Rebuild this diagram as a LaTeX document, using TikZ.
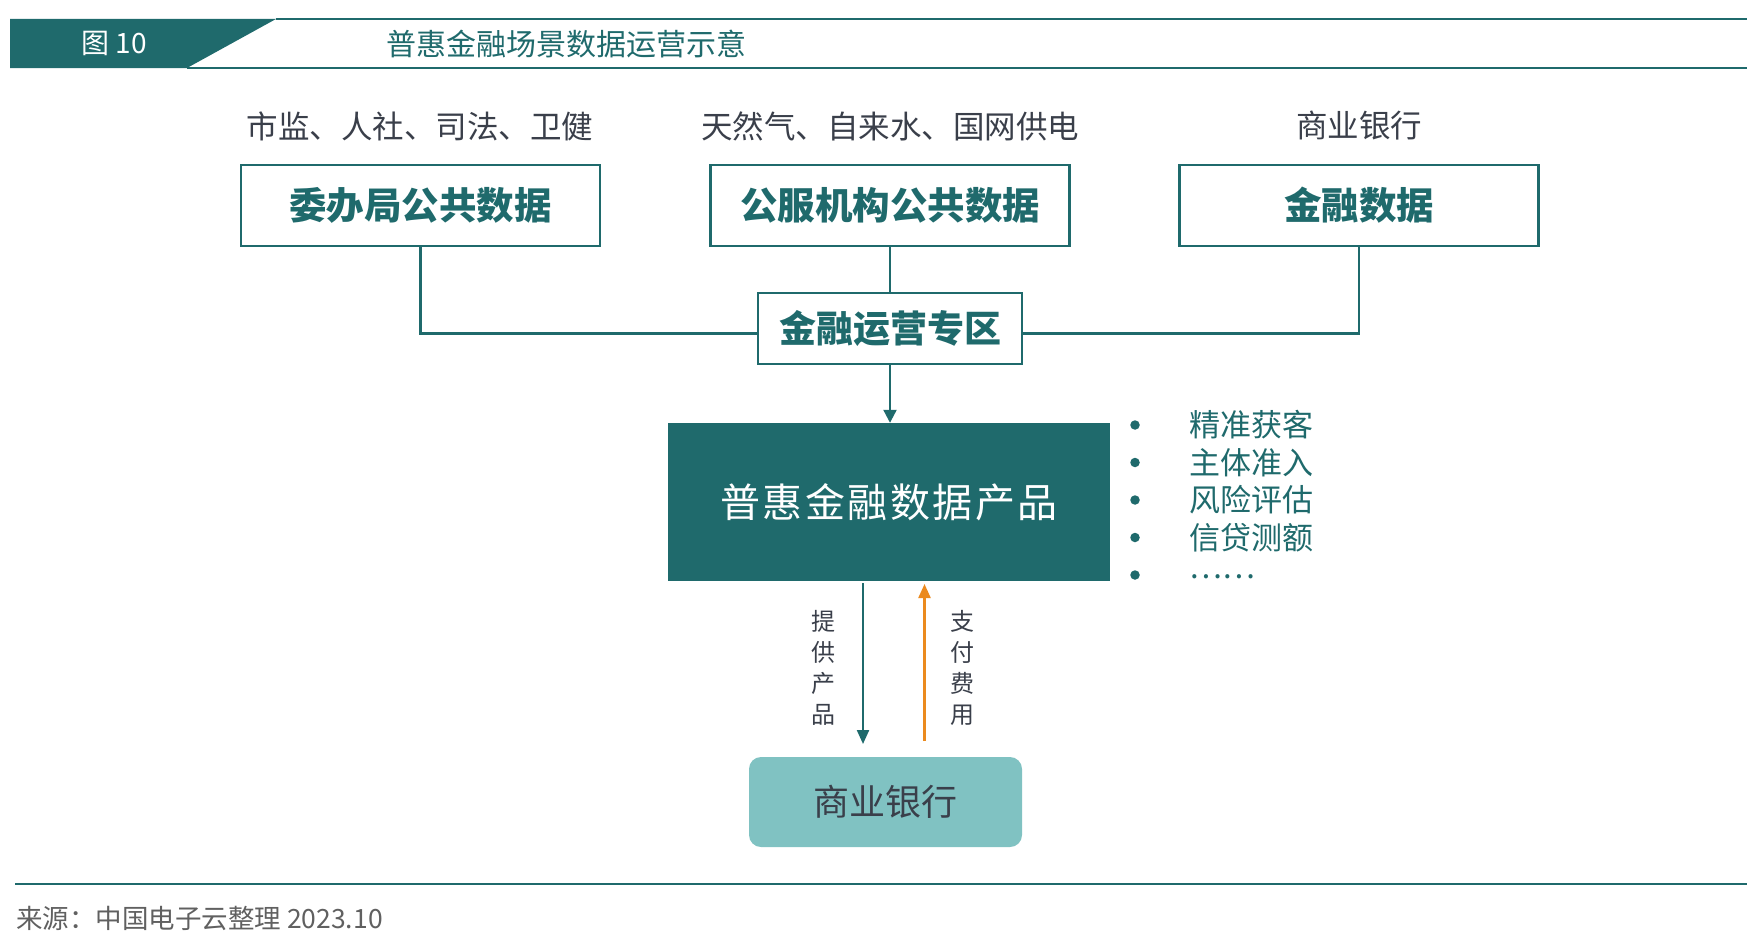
\documentclass[tikz,border=0pt]{standalone}
\usepackage{fontspec}
\setmainfont{Noto Sans CJK SC}
\usetikzlibrary{arrows.meta}
\definecolor{teal1}{HTML}{1F6A6C}
\definecolor{tealL}{HTML}{80C2C2}
\definecolor{orng}{HTML}{EB8A1E}
\definecolor{txtg}{HTML}{3A3F4A}
\definecolor{footg}{HTML}{606060}
\tikzset{
  srcbox/.style={draw=teal1, line width=2.2pt, minimum width=359pt, minimum height=81pt, font=\fontsize{37.5}{40}\selectfont\bfseries, text=teal1, inner sep=0pt},
  toplbl/.style={font=\fontsize{31.5}{34}\selectfont, text=txtg, inner sep=0pt},
  conn/.style={draw=teal1, line width=2.2pt},
  bullet/.style={circle, fill=teal1, minimum size=9.5pt, inner sep=0pt},
  bltxt/.style={font=\fontsize{31}{33}\selectfont, text=teal1, anchor=west, inner sep=0pt},
  vlbl/.style={font=\fontsize{24}{31}\selectfont, text=txtg, align=center, inner sep=0pt},
}
\begin{document}
\begin{tikzpicture}[x=1pt,y=-1pt]
\useasboundingbox (0,0) rectangle (1755,934);
% header
\fill[teal1] (10,19) -- (276,19) -- (187,68) -- (10,68) -- cycle;
\draw[teal1, line width=2pt] (276,19) -- (1747,19);
\draw[teal1, line width=2pt] (187,68) -- (1747,68);
\node[text=white, font=\fontsize{28}{32}\selectfont, inner sep=0pt] (fig) at (114,43) {图 10};
\node[text=teal1, font=\fontsize{30}{32}\selectfont, anchor=west, inner sep=0pt] (title) at (386,44) {普惠金融场景数据运营示意};
% top labels
\node[toplbl] (l1) at (420,126) {市监、人社、司法、卫健};
\node[toplbl] (l2) at (890,126) {天然气、自来水、国网供电};
\node[toplbl] (l3) at (1359,126) {商业银行};
% source boxes
\node[srcbox] (b1) at (420.5,205.5) {委办局公共数据};
\node[srcbox] (b2) at (890,205.5) {公服机构公共数据};
\node[srcbox] (b3) at (1359,205.5) {金融数据};
% zone
\node[draw=teal1, line width=2.2pt, minimum width=264pt, minimum height=71pt, font=\fontsize{37}{40}\selectfont\bfseries, text=teal1, inner sep=0pt] (zone) at (890,328.5) {金融运营专区};
\coordinate (jl) at (758,333.5);
\coordinate (jr) at (1022,333.5);
\draw[conn] (b1.south) |- (jl);
\draw[conn] (b3.south) |- (jr);
\draw[conn] (b2.south) -- (zone.north);
% product
\node[fill=teal1, minimum width=442pt, minimum height=158pt, inner sep=0pt, text=white, font=\fontsize{40}{44}\selectfont] (prod) at (889,502) {普\hspace{2.5pt}惠\hspace{2.5pt}金\hspace{2.5pt}融\hspace{2.5pt}数\hspace{2.5pt}据\hspace{2.5pt}产\hspace{2.5pt}品};
\draw[conn, -{Triangle[length=13pt,width=13pt]}] (zone.south) -- (zone.south |- prod.north);
% bullets
\foreach \y/\t [count=\i] in {425/精准获客, 462.5/主体准入, 500/风险评估, 537.5/信贷测额} {
  \node[bullet] (d\i) at (1135,\y) {};
  \node[bltxt] (t\i) at (1189,\y) {\t};
}
\node[bullet] (d5) at (1135,575) {};
\node[bltxt] (t5) at (1189,577) {……};
% bank
\node[fill=tealL, rounded corners=12pt, minimum width=273pt, minimum height=90pt, inner sep=0pt, text=txtg, font=\fontsize{36}{40}\selectfont] (bank) at (885.5,802) {商业银行};
\coordinate (a1s) at (863,583);
\coordinate (a1e) at (863,744);
\coordinate (a2s) at (924.5,741);
\coordinate (a2e) at (924.5,584);
\draw[conn, -{Triangle[length=14pt,width=12pt]}] (a1s) -- (a1e);
\draw[draw=orng, line width=2.2pt, -{Triangle[length=14pt,width=12pt]}] (a2s) -- (a2e);
\node[vlbl] (v1) at (823,668) {提\\供\\产\\品};
\node[vlbl] (v2) at (962,668) {支\\付\\费\\用};
% footer
\draw[teal1, line width=1.5pt] (15,884) -- (1747,884);
\node[text=footg, font=\fontsize{26.5}{30}\selectfont, anchor=west, inner sep=0pt] (src) at (16,918) {来源：中国电子云整理 2023.10};
\end{tikzpicture}
\end{document}
